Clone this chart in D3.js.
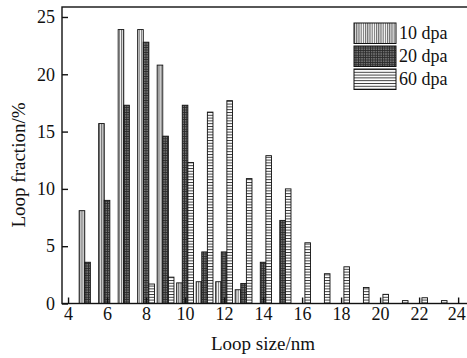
<!DOCTYPE html>
<html>
<head>
<meta charset="utf-8">
<script src="https://cdn.jsdelivr.net/npm/d3@7"></script>
<style>
  body { margin: 0; background: #fff; }
  svg text { font-family: "Liberation Serif", "Times New Roman", serif; fill: #111; }
</style>
</head>
<body>
<svg id="chart" width="467" height="358"></svg>
<script>
// loop sizes (nm) and fractions (%) per dose
const sizes = [5, 6, 7, 8, 9, 10, 11, 12, 13, 14, 15, 16, 17, 18, 19, 20, 21, 22, 23];
const dpa10 = [8.1, 15.7, 23.9, 23.9, 20.8, 1.8, 1.9, 1.9, 1.2, 0, 0, 0, 0, 0, 0, 0, 0, 0, 0];
const dpa20 = [3.6, 9.0, 17.3, 22.8, 14.6, 17.3, 4.5, 4.5, 1.75, 3.6, 7.25, 0, 0, 0, 0, 0, 0, 0, 0];
const dpa60 = [0, 0, 0, 1.7, 2.3, 12.3, 16.7, 17.7, 10.9, 12.9, 10.0, 5.3, 2.6, 3.2, 1.4, 0.8, 0.25, 0.5, 0.25];
const seriesNames = ["10 dpa", "20 dpa", "60 dpa"];
const xTicks = [4, 6, 8, 10, 12, 14, 16, 18, 20, 22, 24];
const yTicks = [0, 5, 10, 15, 20, 25];

const svg = d3.select("#chart");
const margin = { top: 7, right: -4, bottom: 54.5, left: 62 };
const W = 467, H = 358;

const x = d3.scaleLinear().domain([3.69, 24.66]).range([margin.left, W - margin.right]);
const y = d3.scaleLinear().domain([0, 25.87]).range([H - margin.bottom, margin.top]);
const sub = d3.scaleBand().domain(seriesNames).range([-8.4, 8.4]);

// fill patterns
const defs = svg.append("defs");
const p10 = defs.append("pattern").attr("id", "p10").attr("patternUnits", "userSpaceOnUse")
  .attr("width", 2.2).attr("height", 4);
p10.append("rect").attr("width", 2.2).attr("height", 4).attr("fill", "#fff");
p10.append("line").attr("x1", 0.6).attr("x2", 0.6).attr("y1", 0).attr("y2", 4)
  .attr("stroke", "#555").attr("stroke-width", 1);

const p20 = defs.append("pattern").attr("id", "p20").attr("patternUnits", "userSpaceOnUse")
  .attr("width", 2.4).attr("height", 2.4);
p20.append("rect").attr("width", 2.4).attr("height", 2.4).attr("fill", "#2a2a2a");
p20.append("rect").attr("x", 0.3).attr("y", 0.3).attr("width", 1).attr("height", 1).attr("fill", "#ddd");

const p60 = defs.append("pattern").attr("id", "p60").attr("patternUnits", "userSpaceOnUse")
  .attr("width", 4).attr("height", 2.8);
p60.append("rect").attr("width", 4).attr("height", 2.8).attr("fill", "#fff");
p60.append("line").attr("x1", 0).attr("x2", 4).attr("y1", 0.5).attr("y2", 0.5)
  .attr("stroke", "#222").attr("stroke-width", 0.9);

const fills = { "10 dpa": "url(#p10)", "20 dpa": "url(#p20)", "60 dpa": "url(#p60)" };
const values = { "10 dpa": dpa10, "20 dpa": dpa20, "60 dpa": dpa60 };

// bars
const rows = [];
seriesNames.forEach(s => {
  sizes.forEach((v, i) => {
    if (values[s][i] > 0) rows.push({ s: s, size: v, val: values[s][i] });
  });
});

svg.append("g").selectAll("rect")
  .data(rows)
  .enter()
  .append("rect")
  .attr("x", d => x(d.size) + sub(d.s))
  .attr("y", d => y(d.val))
  .attr("width", sub.bandwidth())
  .attr("height", d => y(0) - y(d.val))
  .attr("fill", d => fills[d.s])
  .attr("stroke", "#111")
  .attr("stroke-width", 0.9);

// frame
const x0 = margin.left, x1 = W - margin.right, yTop = margin.top, yBot = H - margin.bottom;
svg.append("rect").attr("x", x0).attr("y", yTop).attr("width", x1 - x0).attr("height", yBot - yTop)
  .attr("fill", "none").attr("stroke", "#111").attr("stroke-width", 1.4);

// axes, ticks inward
const xAxis = svg.append("g").attr("transform", "translate(0," + yBot + ")")
  .call(d3.axisBottom(x).tickValues(xTicks).tickSize(-6).tickPadding(4).tickFormat(d3.format("d")));
xAxis.select(".domain").remove();
xAxis.selectAll("line").attr("stroke", "#111").attr("stroke-width", 1.4);
xAxis.selectAll("text").style("font-size", "18px");
// last label sits against the right edge, keep it inside the window
xAxis.selectAll("text").filter(d => d === 24).attr("text-anchor", "end").attr("dx", "7px");

const yAxis = svg.append("g").attr("transform", "translate(" + x0 + ",0)")
  .call(d3.axisLeft(y).tickValues(yTicks).tickSize(-6).tickPadding(7));
yAxis.select(".domain").remove();
yAxis.selectAll("line").attr("stroke", "#111").attr("stroke-width", 1.4);
yAxis.selectAll("text").style("font-size", "18px");

// axis titles
svg.append("text")
  .attr("x", 263).attr("y", 350)
  .attr("text-anchor", "middle")
  .style("font-size", "19px")
  .text("Loop size/nm");

svg.append("text")
  .attr("transform", "translate(25," + 165 + ") rotate(-90)")
  .attr("text-anchor", "middle")
  .style("font-size", "19px")
  .text("Loop fraction/%");

// legend
const legend = svg.append("g").attr("transform", "translate(354,23)");
seriesNames.forEach((s, i) => {
  const g = legend.append("g").attr("transform", "translate(0," + (i * 23) + ")");
  g.append("rect").attr("width", 42).attr("height", 20.5)
    .attr("fill", fills[s]).attr("stroke", "#111").attr("stroke-width", 1);
  g.append("text").attr("x", 45).attr("y", 16).style("font-size", "18px").text(s);
});
</script>
</body>
</html>
